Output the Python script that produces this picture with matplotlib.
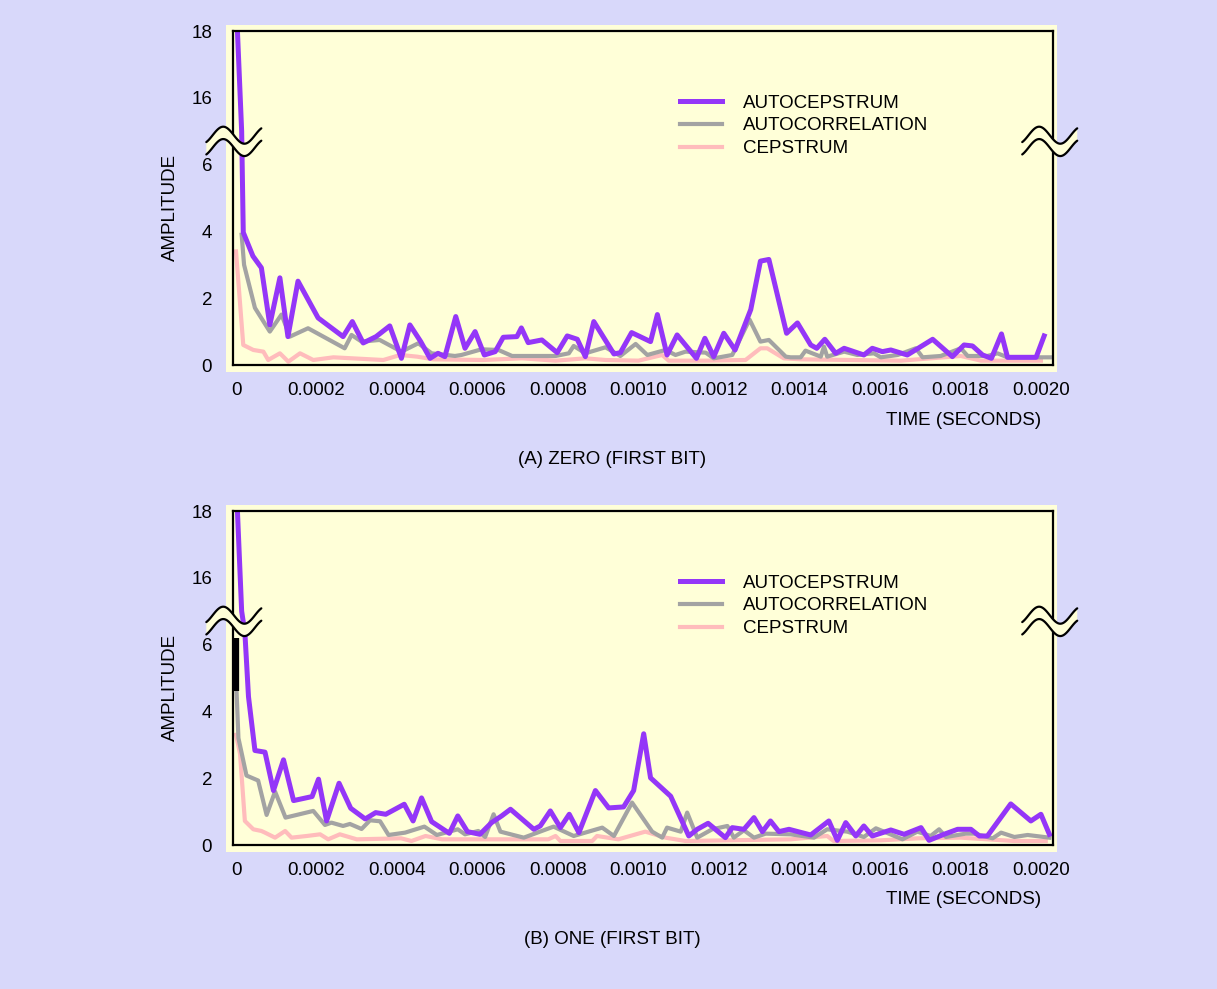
import numpy as np
import matplotlib
matplotlib.use('Agg')
import matplotlib.pyplot as plt
from matplotlib.patches import Rectangle, Polygon
from matplotlib.lines import Line2D

plt.rcParams['font.family'] = ['Liberation Sans', 'DejaVu Sans']

series_names = ['AUTOCEPSTRUM', 'AUTOCORRELATION', 'CEPSTRUM']
panel_titles = ['(A) ZERO (FIRST BIT)', '(B) ONE (FIRST BIT)']
amp_ticks = [0, 2, 4, 6, 16, 18]
time_ticks = [0, 0.0002, 0.0004, 0.0006, 0.0008, 0.0010,
              0.0012, 0.0014, 0.0016, 0.0018, 0.0020]
time_labels = ['0', '0.0002', '0.0004', '0.0006', '0.0008', '0.0010',
               '0.0012', '0.0014', '0.0016', '0.0018', '0.0020']

# (A) zero -- times in microseconds
a_acep_us = [0, 14, 18, 42, 63, 84, 109, 129, 154, 204, 266, 289, 316, 348, 382,
             411, 432, 459, 482, 502, 519, 546, 569, 594, 617, 644, 664, 698, 709,
             726, 760, 798, 823, 848, 868, 889, 939, 955, 983, 1030, 1047, 1071,
             1096, 1144, 1165, 1187, 1212, 1240, 1279, 1303, 1324, 1368, 1395, 1428,
             1443, 1463, 1490, 1511, 1560, 1581, 1606, 1627, 1668, 1731, 1780, 1809,
             1830, 1855, 1877, 1902, 1917, 1988, 2008]
a_acep = [19, 7.0, 3.97, 3.26, 2.91, 1.20, 2.61, 0.85, 2.51, 1.41, 0.85, 1.30, 0.66,
          0.85, 1.17, 0.20, 1.20, 0.70, 0.20, 0.35, 0.25, 1.45, 0.50, 1.00, 0.30,
          0.40, 0.83, 0.85, 1.11, 0.67, 0.75, 0.37, 0.87, 0.77, 0.25, 1.30, 0.33,
          0.37, 0.97, 0.70, 1.51, 0.30, 0.90, 0.20, 0.80, 0.25, 0.95, 0.45, 1.66,
          3.11, 3.16, 0.95, 1.26, 0.60, 0.50, 0.77, 0.35, 0.50, 0.30, 0.50, 0.40,
          0.45, 0.30, 0.77, 0.25, 0.60, 0.57, 0.30, 0.20, 0.93, 0.23, 0.23, 0.87]

a_acor_us = [14, 20, 47, 84, 113, 134, 179, 270, 287, 312, 357, 411, 453, 486, 544,
             560, 610, 652, 686, 794, 827, 839, 868, 918, 955, 993, 1022, 1067, 1092,
             1117, 1167, 1187, 1233, 1276, 1303, 1324, 1366, 1378, 1403, 1415, 1453,
             1461, 1469, 1511, 1544, 1585, 1602, 1644, 1689, 1706, 1751, 1801, 1818,
             1867, 1892, 1917, 2025]
a_acor = [3.9, 3.0, 1.71, 1.00, 1.51, 0.85, 1.10, 0.50, 0.90, 0.70, 0.75, 0.40, 0.65,
          0.35, 0.27, 0.30, 0.47, 0.45, 0.27, 0.27, 0.35, 0.57, 0.35, 0.53, 0.27,
          0.63, 0.30, 0.45, 0.30, 0.40, 0.37, 0.20, 0.30, 1.36, 0.70, 0.75, 0.25,
          0.23, 0.23, 0.43, 0.25, 0.55, 0.25, 0.40, 0.30, 0.35, 0.23, 0.30, 0.50,
          0.23, 0.27, 0.50, 0.27, 0.27, 0.35, 0.23, 0.23]

a_cep_us = [0, 18, 43, 68, 80, 109, 130, 159, 192, 242, 366, 408, 450, 490, 614, 711,
            794, 868, 918, 1000, 1059, 1075, 1167, 1266, 1303, 1320, 1361, 1403, 1527,
            1652, 1801, 1851, 2000]
a_cep = [3.4, 0.60, 0.45, 0.40, 0.15, 0.35, 0.10, 0.35, 0.15, 0.23, 0.15, 0.30, 0.25,
         0.17, 0.15, 0.20, 0.13, 0.20, 0.15, 0.13, 0.30, 0.13, 0.13, 0.15, 0.50, 0.50,
         0.20, 0.17, 0.15, 0.13, 0.27, 0.13, 0.13]

# (B) one -- times in microseconds
b_acep_us = [0, 14, 22, 31, 47, 72, 93, 118, 143, 189, 205, 225, 256, 285, 321, 347,
             372, 418, 440, 461, 486, 530, 551, 575, 606, 635, 660, 682, 740, 756, 781,
             806, 828, 852, 893, 926, 963, 988, 1013, 1030, 1080, 1125, 1146, 1173,
             1216, 1233, 1262, 1287, 1308, 1328, 1349, 1374, 1428, 1473, 1494, 1515,
             1540, 1560, 1581, 1627, 1660, 1702, 1722, 1759, 1793, 1826, 1847, 1867,
             1925, 1975, 2000, 2021]
b_acep = [19, 7.0, 6.36, 4.44, 2.83, 2.78, 1.63, 2.55, 1.33, 1.45, 1.97, 0.72, 1.85,
          1.10, 0.78, 0.97, 0.92, 1.22, 0.72, 1.41, 0.70, 0.35, 0.87, 0.40, 0.32, 0.67,
          0.87, 1.07, 0.47, 0.57, 1.02, 0.52, 0.92, 0.37, 1.63, 1.11, 1.14, 1.63, 3.33,
          2.01, 1.46, 0.27, 0.47, 0.65, 0.22, 0.52, 0.47, 0.82, 0.40, 0.72, 0.40, 0.47,
          0.30, 0.72, 0.14, 0.67, 0.27, 0.57, 0.27, 0.45, 0.32, 0.52, 0.14, 0.32, 0.47,
          0.47, 0.27, 0.27, 1.23, 0.72, 0.92, 0.32]

b_acor_us = [0, 6, 26, 55, 76, 97, 123, 192, 221, 237, 266, 283, 312, 333, 358, 379,
             420, 468, 499, 551, 569, 602, 619, 640, 657, 689, 715, 789, 839, 910, 939,
             984, 1034, 1059, 1071, 1105, 1121, 1146, 1183, 1221, 1237, 1262, 1287,
             1316, 1378, 1436, 1469, 1519, 1560, 1590, 1656, 1693, 1726, 1747, 1764,
             1813, 1834, 1880, 1901, 1934, 1967, 2021]
b_acor = [5.0, 3.2, 2.08, 1.93, 0.90, 1.60, 0.82, 1.02, 0.60, 0.67, 0.57, 0.63, 0.48,
          0.74, 0.71, 0.30, 0.37, 0.55, 0.30, 0.47, 0.32, 0.42, 0.24, 0.92, 0.40, 0.30,
          0.22, 0.55, 0.27, 0.52, 0.27, 1.27, 0.40, 0.22, 0.52, 0.40, 0.97, 0.22, 0.47,
          0.57, 0.22, 0.44, 0.22, 0.34, 0.32, 0.22, 0.47, 0.40, 0.24, 0.50, 0.17, 0.40,
          0.27, 0.47, 0.24, 0.34, 0.34, 0.20, 0.37, 0.24, 0.30, 0.22]

b_cep_us = [0, 10, 22, 43, 63, 72, 97, 122, 138, 176, 209, 229, 258, 300, 410, 436,
            471, 512, 689, 776, 794, 806, 885, 897, 950, 1017, 1067, 1117, 1378, 1469,
            1485, 1602, 1694, 1801, 1933, 2012]
b_cep = [3.3, 2.73, 0.72, 0.47, 0.42, 0.37, 0.22, 0.42, 0.22, 0.27, 0.32, 0.17, 0.32,
         0.17, 0.20, 0.12, 0.27, 0.17, 0.17, 0.17, 0.27, 0.12, 0.12, 0.27, 0.17, 0.40,
         0.22, 0.12, 0.17, 0.27, 0.12, 0.14, 0.20, 0.22, 0.12, 0.12]

# stray black stroke near the origin of panel B
b_mark_us = [0, 0]
b_mark = [4.6, 6.2]

LAVENDER = '#d8d8fa'
YELLOW = '#ffffd8'
PURPLE = '#9436f8'
GRAY = '#a3a3a3'
PINK = '#ffbcbc'
FS = 13.5
W, H = 1217, 989


def fwd(v):
    v = np.asarray(v, dtype=float)
    return np.where(v <= 7, v / 2, np.where(v >= 15, (v - 8) / 2, 3.5))


def inv(p):
    p = np.asarray(p, dtype=float)
    return np.where(p <= 3.5, p * 2, p * 2 + 8)


def box(l, t, r, b):
    return [l / W, 1 - b / H, (r - l) / W, (b - t) / H]


def draw_break(ax, cx):
    # two stacked wavy strokes, with the gap between them blanked out
    th = np.linspace(-0.3 * np.pi, 2.3 * np.pi, 80)
    u = cx + np.linspace(-27.5, 27.5, 80) / 820
    amp = 8.5 / 334
    up = 0.688 + amp * np.sin(th)
    lo = 0.651 + amp * np.sin(th)
    gap = np.column_stack([np.r_[u, u[::-1]], np.r_[up, lo[::-1]]])
    ax.add_patch(Polygon(gap, closed=True, facecolor=YELLOW, edgecolor='none',
                         transform=ax.transAxes, clip_on=False, zorder=4))
    for yy in (up, lo):
        ax.plot(u, yy, color='black', lw=1.6, transform=ax.transAxes,
                clip_on=False, zorder=5, solid_capstyle='round')


fig = plt.figure(figsize=(W / 100, H / 100), dpi=100, facecolor=LAVENDER)

panels = [
    (a_acep_us, a_acep, a_acor_us, a_acor, a_cep_us, a_cep),
    (b_acep_us, b_acep, b_acor_us, b_acor, b_cep_us, b_cep),
]

for k, (t1, y1, t2, y2, t3, y3) in enumerate(panels):
    off = 480 * k
    fig.add_artist(Rectangle((226 / W, 1 - (372 + off) / H), (1057 - 226) / W, 347 / H,
                             transform=fig.transFigure, facecolor=YELLOW,
                             edgecolor='none', zorder=-5))
    ax = fig.add_axes(box(233, 31 + off, 1053, 365 + off))
    ax.set_facecolor(YELLOW)

    ax.plot(np.array(t3) * 1e-6, y3, color=PINK, lw=3.0, zorder=2)
    ax.plot(np.array(t2) * 1e-6, y2, color=GRAY, lw=3.0, zorder=2.1)
    ax.plot(np.array(t1) * 1e-6, y1, color=PURPLE, lw=3.6, zorder=2.2)
    if k == 1:
        ax.plot(np.array(b_mark_us) * 1e-6, b_mark, color='black', lw=4.5,
                solid_capstyle='butt', zorder=3, clip_on=False)

    ax.set_yscale('function', functions=(fwd, inv))
    ax.set_ylim(0, 18)
    ax.set_xlim(-0.0000075, 0.00203)
    ax.set_yticks(amp_ticks)
    ax.set_yticklabels([str(v) for v in amp_ticks])
    ax.set_xticks(time_ticks)
    ax.set_xticklabels(time_labels)
    ax.minorticks_off()
    ax.tick_params(axis='both', length=0, labelsize=FS, colors='black')
    ax.tick_params(axis='y', pad=15)
    ax.tick_params(axis='x', pad=12)
    for sp in ax.spines.values():
        sp.set_linewidth(1.6)
        sp.set_color('black')

    handles = [Line2D([], [], color=PURPLE, lw=3.6),
               Line2D([], [], color=GRAY, lw=3.0),
               Line2D([], [], color=PINK, lw=3.0)]
    ax.legend(handles, series_names, loc='upper left', bbox_to_anchor=(0.545, 0.81),
              frameon=False, fontsize=FS, handlelength=2.24, handletextpad=1.12,
              labelspacing=0.3, borderpad=0, borderaxespad=0)

    draw_break(ax, 0.001)
    draw_break(ax, 0.996)

    fig.text(170 / W, 1 - (207 + off) / H, 'AMPLITUDE', rotation=90, fontsize=FS,
             ha='center', va='center')
    fig.text(1041 / W, 1 - (420 + off) / H, 'TIME (SECONDS)', fontsize=FS,
             ha='right', va='center')
    fig.text(612 / W, 1 - (460 + off) / H, panel_titles[k], fontsize=FS,
             ha='center', va='center')

fig.savefig('out.png', dpi=100, facecolor=LAVENDER)
